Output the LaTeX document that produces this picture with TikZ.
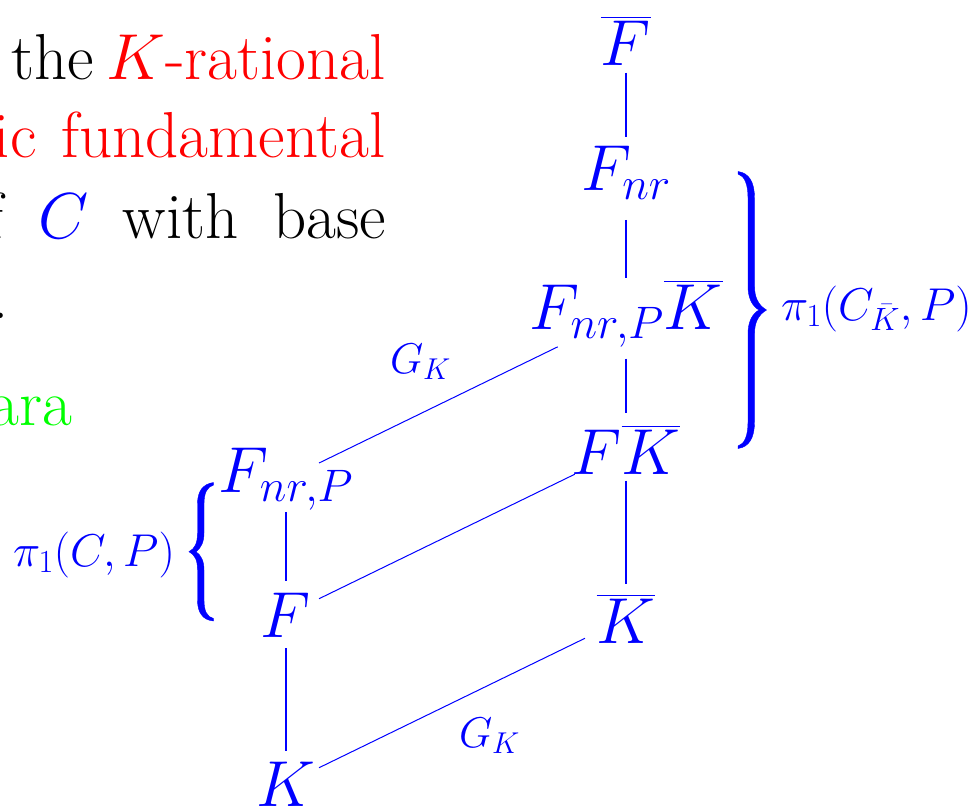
\RequirePackage{fix-cm}
\documentclass[tikz,border=0pt]{standalone}
\usepackage{exscale}
\usepackage{xcolor}
\definecolor{fblue}{RGB}{0,0,255}
\definecolor{fred}{RGB}{255,0,0}
\definecolor{fgreen}{RGB}{0,255,0}
\newcommand\mainsize{\fontsize{65}{78}\selectfont}
\newcommand\labsize{\fontsize{43}{52}\selectfont}
\newcommand\pisize{\fontsize{46}{55}\selectfont}
\begin{document}
\begin{tikzpicture}[x=1pt,y=-1pt,
  main/.style={font=\mainsize, text=fblue, inner sep=0pt, outer sep=0pt},
  lab/.style={font=\labsize, text=fblue, inner sep=0pt, outer sep=0pt},
  pilab/.style={font=\pisize, text=fblue, inner sep=0pt, outer sep=0pt},
  txt/.style={font=\mainsize, inner sep=0pt, outer sep=0pt},
  link/.style={draw=fblue, line width=1.2pt},
  bracefill/.style={fill=fblue, draw=fblue, line width=0.4pt}]
\useasboundingbox (0,0) rectangle (969,806);
\clip (0,0) rectangle (969,806);
% text of the slide
\node[txt, anchor=base east] (t1) at (386,79) {\hbox to 375pt{the\hfill\textcolor{fred}{$K$-rational}}};
\node[txt, anchor=base east, text=fred] (t2) at (386,157) {\hbox to 392pt{ic\hfill fundamental}};
\node[txt, anchor=base east] (t3) at (386,238) {\hbox to 400pt{f\hfill\textcolor{fblue}{$C$}\hfill with\hfill base}};
\node[txt, anchor=base west] (t4) at (-8,318) {.};
\node[txt, anchor=base east, text=fgreen] (t5) at (72,425) {ara};
% field nodes
\node[main, anchor=base] (Fbar) at (626,65) {$\overline{F}$};
\node[main, anchor=base] (Fnr) at (626,190) {$F_{nr}$};
\node[main, anchor=base] (FnrPK) at (626,329) {$F_{nr,P}\overline{K}$};
\node[main, anchor=base] (FK) at (626,474) {$F\overline{K}$};
\node[main, anchor=base] (Kb) at (626,643) {$\overline{K}$};
\node[main, anchor=base] (FnrP) at (286,492) {$F_{nr,P}$};
\node[main, anchor=base] (F) at (286,637) {$F$};
\node[main, anchor=base] (K) at (286,806) {$K$};
% connectors
\draw[link, shorten <=32.4pt, shorten >=35.2pt] (Fbar.center) -- (Fnr.center);
\draw[link, shorten <=47.3pt, shorten >=35.9pt] (Fnr.center) -- (FnrPK.center);
\draw[link, shorten <=45.1pt, shorten >=36.6pt] (FnrPK.center) -- (FK.center);
\draw[link, shorten <=31.4pt, shorten >=34.6pt] (FK.center) -- (Kb.center);
\draw[link, shorten <=32.9pt, shorten >=33.8pt] (FnrP.center) -- (F.center);
\draw[link, shorten <=33.2pt, shorten >=32.8pt] (F.center) -- (K.center);
\draw[link, line width=1pt, shorten <=36.8pt, shorten >=75.9pt] (FnrP.center) -- (FnrPK.center);
\draw[link, line width=1pt, shorten <=36.8pt, shorten >=56.9pt] (F.center) -- (FK.center);
\draw[link, line width=1pt, shorten <=36.8pt, shorten >=45.7pt] (K.center) -- (Kb.center);
% right brace
\fill[bracefill] (738,171.5) .. controls (749,173) and (754.5,182) .. (754.5,198)
  -- (754.5,286) .. controls (754.5,297) and (758,305) .. (766.5,310)
  .. controls (758,315) and (754.5,323) .. (754.5,334)
  -- (754.5,422) .. controls (754.5,438) and (749,447) .. (738,448.5)
  -- (738,446) .. controls (744.5,444) and (748,436) .. (748,422)
  -- (748,334) .. controls (748,322) and (752,314) .. (759,310)
  .. controls (752,306) and (748,298) .. (748,286)
  -- (748,198) .. controls (748,184) and (744.5,176) .. (738,174) -- cycle;
% left brace
\fill[bracefill] (213.5,482.5) .. controls (203,484) and (197.5,491) .. (197.5,504)
  -- (197.5,533) .. controls (197.5,543) and (195,548.5) .. (189,551.7)
  .. controls (195,555) and (197.5,560) .. (197.5,570)
  -- (197.5,600) .. controls (197.5,613) and (203,620) .. (213.5,621)
  -- (213.5,618.5) .. controls (207,617) and (204,611) .. (204,600)
  -- (204,570) .. controls (204,561) and (201,555) .. (196,551.7)
  .. controls (201,548) and (204,542) .. (204,533)
  -- (204,504) .. controls (204,493) and (207,487) .. (213.5,485) -- cycle;
% labels
\node[pilab, anchor=base west] (pi2) at (781,320) {$\pi_1(C_{\bar K},P)$};
\node[pilab, anchor=base west] (pi1) at (13,566) {$\pi_1(C,P)$};
\node[lab, anchor=base west] (gk1) at (390,373) {$G_K$};
\node[lab, anchor=base west] (gk2) at (459,747) {$G_K$};
\end{tikzpicture}
\end{document}
